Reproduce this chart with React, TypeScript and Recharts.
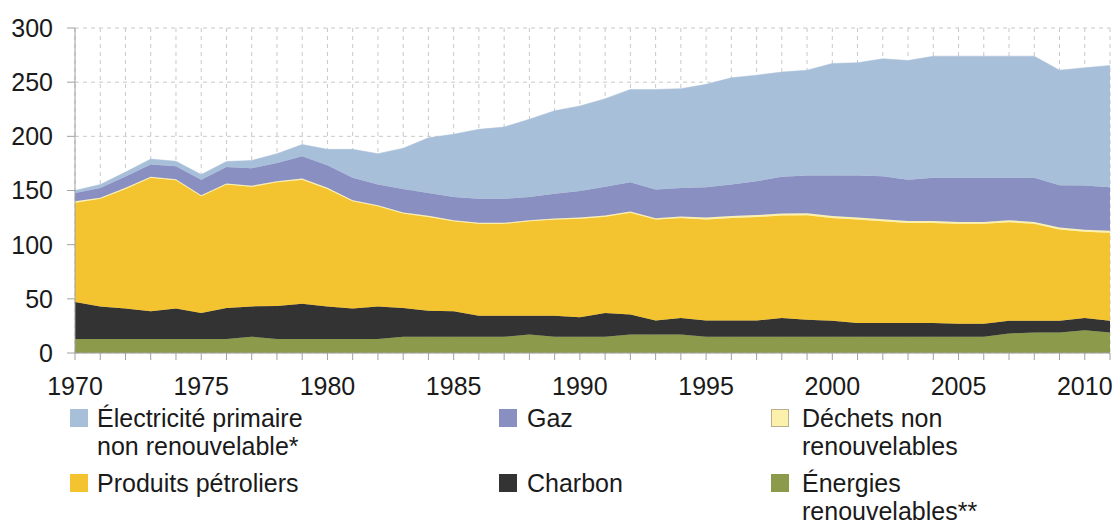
import { AreaChart, Area, XAxis, YAxis, CartesianGrid } from "recharts";

const YEARS = [
  1970, 1971, 1972, 1973, 1974, 1975, 1976, 1977, 1978, 1979,
  1980, 1981, 1982, 1983, 1984, 1985, 1986, 1987, 1988, 1989,
  1990, 1991, 1992, 1993, 1994, 1995, 1996, 1997, 1998, 1999,
  2000, 2001, 2002, 2003, 2004, 2005, 2006, 2007, 2008, 2009,
  2010, 2011,
];

// Mtep
const RENOUVELABLES = [
  13, 13, 13, 13, 13, 13, 13, 15, 13, 13,
  13, 13, 13, 15, 15, 15, 15, 15, 17, 15,
  15, 15, 17, 17, 17, 15, 15, 15, 15, 15,
  15, 15, 15, 15, 15, 15, 15, 18, 19, 19,
  21, 19,
];
const CHARBON = [
  34, 30, 28, 25.5, 28, 24, 28.5, 28, 30.5, 32.5,
  30, 28, 30, 26.5, 24, 23.5, 19.5, 19.5, 17.5, 19.5,
  18, 22, 18.5, 13, 15.3, 15, 15, 15, 17.3, 15.8,
  14.8, 12.7, 12.7, 12.7, 12.7, 12.1, 12.1, 11.8, 10.8, 10.8,
  11.3, 10.8,
];
const PETROLE = [
  91.6, 99.3, 110.5, 123.2, 118.5, 107.7, 114, 110.4, 114.1, 114.5,
  108.5, 99, 92.5, 87.2, 86.6, 83.1, 84.7, 84.7, 87.1, 88.7,
  91, 88.7, 93.9, 93.2, 92.4, 93.2, 94.7, 95.5, 94.6, 96.4,
  94.9, 95.5, 93.9, 92.4, 92.4, 92.1, 92.1, 90.9, 89.4, 84.2,
  79.7, 81.2,
];
const DECHETS = [
  1.5, 1, 1, 1, 1, 1, 1, 1, 1, 1,
  1, 1, 1, 1, 1, 1, 1, 1, 1, 1,
  1, 1.2, 1.2, 1.2, 1.2, 1.8, 1.8, 1.8, 1.8, 1.8,
  1.8, 1.8, 1.8, 1.8, 1.8, 1.8, 1.8, 1.8, 1.8, 1.8,
  1.8, 1.8,
];
const GAZ = [
  7.7, 9.1, 10.5, 11.3, 11.9, 14.3, 15.3, 16.2, 16.9, 20.7,
  20.9, 20.7, 19, 21.8, 21.2, 21.4, 22.1, 22.1, 21.4, 22.8,
  24.5, 26.5, 27, 26.6, 26.5, 28, 29, 31.3, 33.9, 34.8,
  37.3, 38.8, 39.8, 38.1, 39.8, 40.7, 40.7, 39.2, 40.7, 39.1,
  40.8, 40.2,
];
const ELECTRICITE = [
  2.2, 3.1, 4, 5, 4.6, 4.7, 5, 7.1, 8.5, 10.8,
  14.6, 26.3, 28.5, 37.5, 50.8, 58, 64.2, 66.3, 71.8, 76.6,
  78.5, 81.3, 85.7, 92.3, 91.6, 95, 98.5, 97.9, 96.7, 97.3,
  103.5, 104.2, 108.4, 110, 112.3, 112.3, 112.3, 112.3, 112.3, 106.2,
  108.7, 112.4,
];

const Y_TICKS = [0, 50, 100, 150, 200, 250, 300];

// bottom to top
const SERIES = [
  { key: "renouvelables", values: RENOUVELABLES, color: "#8b9a4b" },
  { key: "charbon", values: CHARBON, color: "#333333" },
  { key: "petrole", values: PETROLE, color: "#f4c430" },
  { key: "dechets", values: DECHETS, color: "#fbf1ad" },
  { key: "gaz", values: GAZ, color: "#8a8fc2" },
  { key: "electricite", values: ELECTRICITE, color: "#a8bfd9" },
];

// legend: [lines, color, column, row]
const LEGEND: [string[], string, number, number][] = [
  [["Électricité primaire", "non renouvelable*"], "#a8bfd9", 0, 0],
  [["Gaz"], "#8a8fc2", 1, 0],
  [["Déchets non", "renouvelables"], "#fbf1ad", 2, 0],
  [["Produits pétroliers"], "#f4c430", 0, 1],
  [["Charbon"], "#333333", 1, 1],
  [["Énergies", "renouvelables**"], "#8b9a4b", 2, 1],
];

const data = YEARS.map((year, i) => {
  const row: Record<string, number> = { year };
  SERIES.forEach((s) => (row[s.key] = s.values[i]));
  return row;
});

const FONT = "'Liberation Sans', Arial, sans-serif";
const TEXT = "#1a1a1a";

function Legend() {
  const colSwatch = [70, 499, 771];
  const colText = [97, 527, 802];
  const rowTop = [404, 469];
  return (
    <>
      {LEGEND.map(([lines, color, col, row]) => (
        <div key={lines[0]}>
          <div
            style={{
              position: "absolute",
              left: colSwatch[col],
              top: rowTop[row] + 5,
              width: 18,
              height: 18,
              boxSizing: "border-box",
              background: color,
              border: color === "#fbf1ad" ? "1px solid #b8b08a" : "none",
            }}
          />
          {lines.map((l, j) => (
            <div
              key={l}
              style={{
                position: "absolute",
                left: colText[col],
                top: rowTop[row] + j * 28,
                fontFamily: FONT,
                fontSize: 25,
                lineHeight: "28px",
                color: TEXT,
                whiteSpace: "nowrap",
              }}
            >
              {l}
            </div>
          ))}
        </div>
      ))}
    </>
  );
}

export default function App() {
  return (
    <div style={{ position: "absolute", left: 0, top: 0, width: 1115, height: 523, background: "#fff" }}>
      <AreaChart
        width={1115}
        height={523}
        data={data}
        margin={{ top: 28, right: 5, left: 0, bottom: 130 }}
      >
        <CartesianGrid stroke="#c8c8c8" strokeDasharray="4 4" />
        <XAxis
          dataKey="year"
          type="number"
          domain={[1970, 2011]}
          ticks={YEARS}
          interval={0}
          height={40}
          tickSize={7}
          tickMargin={17}
          stroke="#a0a0a0"
          tick={{ fill: TEXT, fontSize: 25, fontFamily: FONT }}
          tickFormatter={(v: number) => (v % 5 === 0 ? String(v) : "")}
        />
        <YAxis
          domain={[0, 300]}
          ticks={Y_TICKS}
          width={75}
          tickSize={8}
          tickMargin={14}
          stroke="#a0a0a0"
          tick={{ fill: TEXT, fontSize: 25, fontFamily: FONT }}
        />
        {SERIES.map((s) => (
          <Area
            key={s.key}
            type="linear"
            dataKey={s.key}
            stackId="1"
            stroke={s.color}
            strokeWidth={0.5}
            fill={s.color}
            fillOpacity={1}
            isAnimationActive={false}
          />
        ))}
      </AreaChart>
      <Legend />
    </div>
  );
}
